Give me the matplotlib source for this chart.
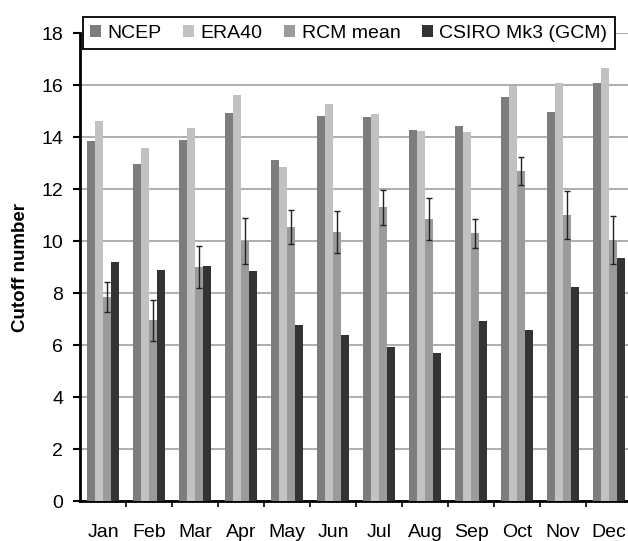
import numpy as np
import matplotlib
matplotlib.use('Agg')
import matplotlib.pyplot as plt

plt.rcParams['font.family'] = ['Liberation Sans', 'DejaVu Sans']

# 月份與各資料集的 cutoff 數
months = ['Jan', 'Feb', 'Mar', 'Apr', 'May', 'Jun', 'Jul', 'Aug', 'Sep', 'Oct', 'Nov', 'Dec']
ncep = [13.86, 12.96, 13.9, 14.91, 13.1, 14.82, 14.78, 14.27, 14.42, 15.53, 14.97, 16.06]
era40 = [14.6, 13.56, 14.33, 15.6, 12.86, 15.26, 14.87, 14.22, 14.2, 15.96, 16.06, 16.67]
rcm_mean = [7.85, 6.95, 9.0, 10.0, 10.55, 10.35, 11.3, 10.85, 10.3, 12.7, 11.0, 10.05]
rcm_err = [0.58, 0.78, 0.8, 0.9, 0.66, 0.8, 0.67, 0.8, 0.55, 0.55, 0.93, 0.92]
csiro = [9.19, 8.88, 9.04, 8.85, 6.78, 6.38, 5.94, 5.71, 6.92, 6.58, 8.22, 9.36]

fig = plt.figure(figsize=(6.28, 5.41), dpi=100)
ax = fig.add_axes([0.1274, 0.0739, 0.879, 0.865])

x = np.arange(len(months))
w = 0.175
ax.bar(x - 1.5 * w, ncep, w, color='#7d7d7d', label='NCEP', zorder=3)
ax.bar(x - 0.5 * w, era40, w, color='#c2c2c2', label='ERA40', zorder=3)
ax.bar(x + 0.5 * w, rcm_mean, w, color='#9b9b9b', label='RCM mean', zorder=3)
ax.errorbar(x + 0.5 * w, rcm_mean, yerr=rcm_err, fmt='none', ecolor='#222222',
            elinewidth=1.0, capsize=2.5, capthick=1.0, zorder=4)
ax.bar(x + 1.5 * w, csiro, w, color='#333333', label='CSIRO Mk3 (GCM)', zorder=3)

ax.set_xlim(-0.5, 11.5)
ax.set_ylim(0, 18)
ax.set_yticks(np.arange(0, 19, 2))
ax.yaxis.grid(True, color='#a8a8a8', linewidth=1.3, zorder=0)

ax.set_xticks(x)
ax.set_xticklabels(months)
ax.set_xticks(np.arange(0.5, 11.5, 1), minor=True)
ax.tick_params(axis='x', which='major', length=0, pad=16.5, labelsize=14)
ax.tick_params(axis='x', which='minor', length=4, width=1.2, direction='out')
ax.tick_params(axis='y', length=5, width=1.5, pad=7, labelsize=14)

for s in ['top', 'right']:
    ax.spines[s].set_visible(False)
for s in ['left', 'bottom']:
    ax.spines[s].set_linewidth(2)

ax.set_ylabel('Cutoff number', fontsize=13.5, fontweight='bold', labelpad=9)

leg = ax.legend(loc='center', bbox_to_anchor=(0.487, 1.0), ncol=4, fontsize=14,
                handlelength=0.55, handleheight=0.55, handletextpad=0.35,
                columnspacing=1.1, fancybox=False, framealpha=1,
                edgecolor='black', borderpad=0.4, borderaxespad=0)
leg.get_frame().set_linewidth(1.3)
leg.set_zorder(5)

plt.savefig('out.png', dpi=100)
